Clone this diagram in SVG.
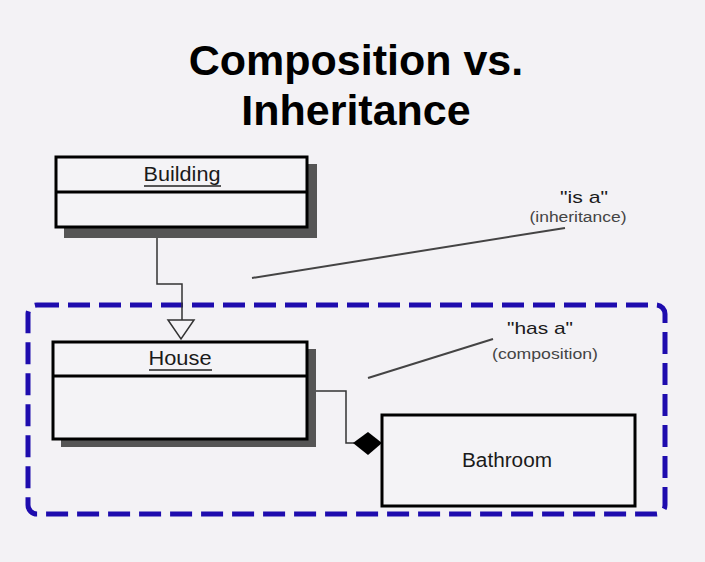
<svg xmlns="http://www.w3.org/2000/svg" width="705" height="562" viewBox="0 0 705 562">
<defs>
<style>
.title{font-family:"Liberation Sans",Arial,sans-serif;font-weight:bold;font-size:43px;fill:#000;text-anchor:middle}
.cls{font-family:"Liberation Sans",Arial,sans-serif;font-size:20px;fill:#1a1a1a;text-anchor:middle}
.note{font-family:"Liberation Sans",Arial,sans-serif;font-size:17px;fill:#1a1a1a;text-anchor:middle}
.sub{font-family:"Liberation Sans",Arial,sans-serif;font-size:14px;fill:#444;text-anchor:middle}
.box{fill:#f4f3f6;stroke:#000;stroke-width:3}
.shadow{fill:#555}
.conn{fill:none;stroke:#333;stroke-width:1.5}
.lead{stroke:#444;stroke-width:2;fill:none}
</style>
</defs>
<rect width="705" height="562" fill="#f3f2f5"/>
<text class="title" x="356" y="75">Composition vs.</text>
<text class="title" x="356" y="125">Inheritance</text>

<rect x="28" y="305" width="637" height="209" rx="9" fill="none" stroke="#1e0cae" stroke-width="5" stroke-dasharray="22 9"/>

<g id="connectors">
<polyline class="conn" points="157,228 157,284 182,284 182,320"/>
<polygon points="168,320 194,320 181,339" fill="#f4f3f6" stroke="#333" stroke-width="1.5"/>
<polyline class="conn" points="316,391 346,391 346,443 354,443"/>
<polygon points="353,443 368,432 382,443 368,455" fill="#000"/>
</g>

<g id="building">
<rect class="shadow" x="64" y="164" width="253" height="74"/>
<rect class="box" x="56" y="157" width="251" height="70"/>
<line x1="56" y1="192" x2="307" y2="192" stroke="#000" stroke-width="3"/>
<text class="cls" x="182" y="181" textLength="77" lengthAdjust="spacingAndGlyphs">Building</text>
<line x1="144" y1="186" x2="221" y2="186" stroke="#222" stroke-width="1.5"/>
</g>

<g id="house">
<rect class="shadow" x="61" y="349" width="255" height="98"/>
<rect class="box" x="53" y="342" width="254" height="97"/>
<line x1="53" y1="376" x2="307" y2="376" stroke="#000" stroke-width="3"/>
<text class="cls" x="180" y="365" textLength="63" lengthAdjust="spacingAndGlyphs">House</text>
<line x1="149" y1="370" x2="212" y2="370" stroke="#222" stroke-width="1.5"/>
</g>

<g id="bathroom">
<rect class="box" x="382" y="415" width="253" height="91"/>
<text class="cls" x="507" y="467" textLength="90" lengthAdjust="spacingAndGlyphs">Bathroom</text>
</g>

<g id="is-a">
<line class="lead" x1="252" y1="278" x2="565" y2="228"/>
<text class="note" x="584" y="203" textLength="48" lengthAdjust="spacingAndGlyphs">"is a"</text>
<text class="sub" x="578" y="222" textLength="97" lengthAdjust="spacingAndGlyphs">(inheritance)</text>
</g>

<g id="has-a">
<line class="lead" x1="368" y1="378" x2="493" y2="339"/>
<text class="note" x="540" y="334" textLength="66" lengthAdjust="spacingAndGlyphs">"has a"</text>
<text class="sub" x="545" y="359" textLength="106" lengthAdjust="spacingAndGlyphs">(composition)</text>
</g>
</svg>
